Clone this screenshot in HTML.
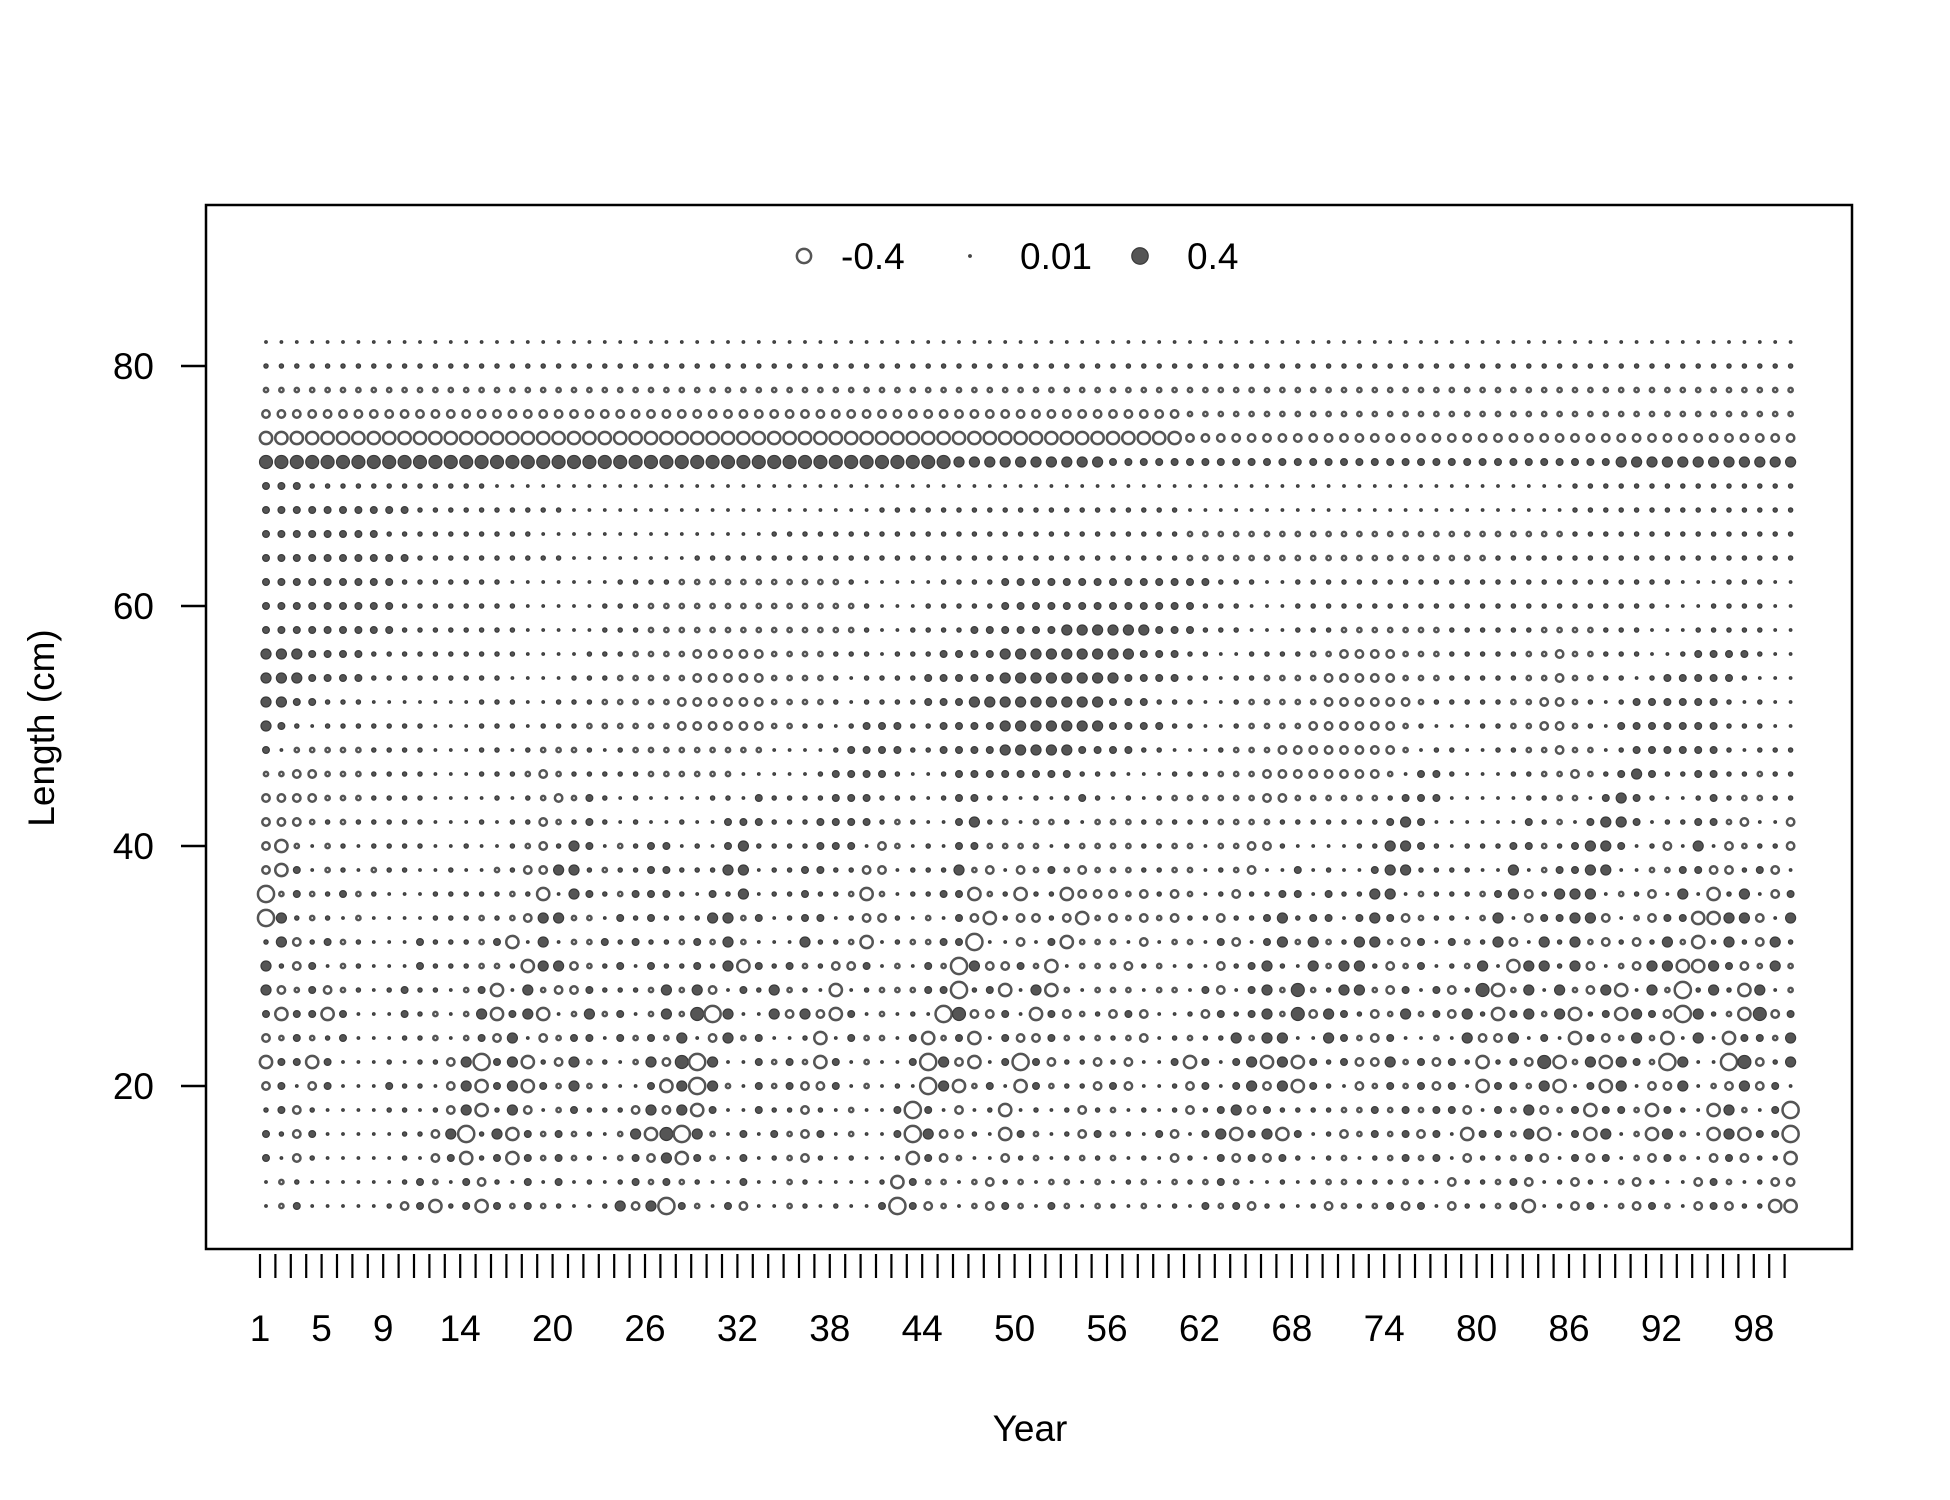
<!DOCTYPE html>
<html><head><meta charset="utf-8"><title>Length residual bubble plot</title>
<style>
html,body{margin:0;padding:0;background:#fff;}
svg{display:block;font-family:"Liberation Sans",Arial,sans-serif;}
</style></head>
<body>
<svg id="chart" width="1950" height="1500" viewBox="0 0 1950 1500" xmlns="http://www.w3.org/2000/svg">
<rect x="0" y="0" width="1950" height="1500" fill="#fff"/>
<g id="bubbles"></g>
<rect x="206" y="205" width="1646" height="1044" fill="none" stroke="#000" stroke-width="2.5"/>
<g id="yaxis"></g>
<g id="xaxis"></g>
<text x="0" y="0" transform="translate(44,728) rotate(-90)" font-size="37" text-anchor="middle" dominant-baseline="middle">Length (cm)</text>
<text x="1030" y="1441" font-size="37" text-anchor="middle">Year</text>
<g id="legend"></g>
</svg>
<script>
// ---- data ----
const lengthBins = [82,80,78,76,74,72,70,68,66,64,62,60,58,56,54,52,50,48,46,44,42,40,38,36,34,32,30,28,26,24,22,20,18,16,14,12,10];
const yearCount = 100;
const xTickYears = [1,5,9,14,20,26,32,38,44,50,56,62,68,74,80,86,92,98];
const yTickValues = [20,40,60,80];
const legendValues = [-0.4, 0.01, 0.4];
const legendLabels = ["-0.4","0.01","0.4"];
// residual level codes: lowercase = positive (filled), uppercase = negative (open)
const codeValues = {".":0.008,"a":0.022,"b":0.055,"c":0.12,"d":0.2,"A":-0.05,"B":-0.11,"C":-0.25,"D":-0.4};
// each row: [years 1-33, years 34-67, years 68-100]
const residualRowsA = [
["................................. ","..................................",".................................."],
["aaaaaaaaaaaaaaaaaaaaaaaaaaaaaaaaa","aaaaaaaaaaaaaaaaaaaaaaaaaaaaaaaaaa","aaaaaaaaaaaaaaaaaaaaaaaaaaaaaaaaa"],
["AAAAAAAAAAAAAAAAAAAAAAAAAAAAAAAAA","AAAAAAAAAAAAAAAAAAAAAAAAAAAAAAAAAA","AAAAAAAAAAAAAAAAAAAAAAAAAAAAAAAAA"],
["BBBBBBBBBBBBBBBBBBBBBBBBBBBBBBBBB","BBBBBBBBBBBBBBBBBBBBBBBBBBBAAAAAAA","AAAAAAAAAAAAAAAAAAAAAAAAAAAAAAAAA"],
["CCCCCCCCCCCCCCCCCCCCCCCCCCCCCCCCC","CCCCCCCCCCCCCCCCCCCCCCCCCCCBBBBBBB","BBBBBBBBBBBBBBBBBBBBBBBBBBBBBBBBB"],
["ddddddddddddddddddddddddddddddddd","ddddddddddddccccccccccbbbbbbbbbbbb","bbbbbbbbbbbbbbbbbbbbbcccccccccccc"],
["bbbaaaaaaaaaaaa..................","..................................","..................aaaaaaaaaaaaaaa"],
["bbbbbbbbbbaaaaaaaaaa.............",".......aaaaaaaaaaaaaaaaaaaa.......","..................aaaaaaaaaaaaaaa"],
["bbbbbbbbaaaaaaaaaa...............","aaaaaaaaaaaaaaaaaaaaaaaaaaaAAAAAAA","AAAAAAAAAAAAAAAAAAaaaaaaaaaaaaaaa"],
["bbbbbbbbbbaaaaaaaaaa........aaaaa","aaaaaaaaaaaaaaaaaaaaaaaaaaaAAAAAAA","AAAAAAAAAAAAAaaaaaaaaaaaaaaaaaaaa"]
];
const residualRowsB = [
["b b b b b b b b b a a a a a a a . . . . . . . a a a a A A A A A A","A A A A A a . . . . . a a a a b b b b b b b b b b b b b b a a a . .","a a a a a a a a a a a a a a a a a a a a a a a a a . . . a a a . ."],
["b b b b b b b b b a a a a a a a a . . . . . a a a A A A A A A A A","A A A A A A a . . . a a a a a b b b b b b b b b b b b b a a a . . . .","a a a a a a a a a a a a a a a a a a a a a a a a . . . a a a a . ."],
["b b b b b b b b b a a a a a a a a . . . . . a a a A A A A A A A A","A A A A A A a . . a a a a b b b b b b c c c c c c b b b a a a . . .","a a a A A A A A A A a a a a a a A A A A a a a . . . a a a a a . ."],
["c c c b b b b a a a a a a a a a a . . . . a a a A A A A B B B B B","A A A A a a a . a a a b b b b c c c c c c c c c b b b a a . . a a a","a A A B B B B A A A a a a a a A A B A A a a a . . a b b b b a . ."],
["c c c b b b b a a a a a a a a a . . . . a a a A A A A A B B B B B","A A A A a . a a a a b b b b b c c c c c c c c b b b b a a . a a A A","A A B B B B B A A A a a a a a A A B A A a a . a b b b b b a . . ."],
["c c b b a a a . . . . . . . a a a . . a a a A A A A A B B B B B B","A A A A a . a a a a b b b c c c c c c c c c b b b a a a . . a A A A","A A B B B B B B A a a a a a A A B B A a . a b b b b b b a . a ."],
["c b a . a a a a a a a . . . a a a . a a a A A A A A A B B B B B B","A A a a . a b b b a a b b b b c c c c c c c b b b b a a . . a A A A","A B B B B B B A a . . . a a A A B B A a . b b b b b b b a a a ."],
["b . A A A A A a a a a . . . a a . a A A A a . a A A A A A A A A A",". . . . a b b b b a a b b b b c c c c c b b b b a a . . . a A A A B","B B B B B B B A . a a . . a a A A B A A . a b b b b b b a . a a"],
["A A B B A A A a a a a . . . a a a A B A a a a a a A A A A A A . .",". . . a b b b b a . . a b b b b b b b b a a a . . . a a a A A A B B","B B B B B B A . b b a . . . a a A A B A a b c b a a b b a a A a a"],
["B B B B A A A a a a a . . . . a . a A B A b a . a . . . . a a . b","a a a a b b b a a a . a b b a a . a . a b a . a . a A A A A A A B B","A A A A A A a b b b . . . . . a a A A . b c b a . . a b a A A a a"],
["B B B A a A a a a a a . . . a . a a B A a b a . a . . a . . b b b","a a a b b b b a A a . . b c a A . A A a . A A A a A a a a A A A A a","a a a a a a b c b . . . . . . b a A . b c c b . a a b b A B . . B"],
["B C A . A a . a a a a . . a . . a A B a c b . A a b b . a . b c a","a a a b b b . B A . a . b b A A A A . a A A A A a a A A . A A B B a",". . . . a a c c b a . a a a b b A a b c c b . a B . c . B A a a B"],
["B C b . A a . A a a . . a . . A a B B c c a A a a b b a a a c c .","a a b b a a B B . a a a c A B . B A b A B A A A a a A A . a A B . .","b . a . . b c c a a a a . . c . A b b c c . . A A b b B B a b B ."],
["D A b A a b A a . . . a a a a a A a C . c b a A b b b a . b a c .","a a b a a A C A . a a b b C A a C a a C B B B A B a B A . a B a a b","b . b a a c c . A a a a A b c B a c c c . A a B . c . C a c . B b"],
["D c a A a . A . . . . a a a A a A B c c A A . b a b a a a c c A b",". a b b . a B B a . A . b B C a B B a B C A B A B A B a a B a a b c","a b b . b c b B A a a . A c . B b b c c B . A B b b C C c c B . c"],
["a c B a b A a . . . b a a a A b C . c . A A b a b a a A b A c A .",". . c a a A C . a A A b b D . . B . b C A A A . B . A A . b B . b c c","A c A a c c A B b . b A a c B . c a c A B a B a c A C a c a B c a"],
["c a B b . A a . . . b a a a A A a C c c B A a b . b a a b a c C b","a b A a B B b . A . b A D c B B b A C . A A A B a A . a . B a b c a",". c A c c a B A b . a A c . C c c a c B . A B c c C C c b B A c A"],
["c B A b B A a . a b a a . A b C . c A B B b a a a A c A c B . b a","c A a . C . a A A A b b D a b C . c C A . A A A . A A . b B . b c A A","d A a c c A B b . b B a d C A c . c A B c C . c A D a c a C c . A"],
["b C b b C b . . . b a A . A c C b c C . A c A b . A c A d D c . .","c B c B C b . A . a . D d B B b . C b B A a B b B . . a B b a b c A A","d B c b a B A c A b B c a C b c A c C a b C c b B D c a A C d B b"],
["B A b A a b . . . a a A . A b B c . B A b b . b A b A c . B c A b",". . a C . b A A . b C A b C . b B B b A a A a A B . a A a a c A c c",". . c b A B b . . A . c B B c . b . C b B A c A C . c . C b b A c"],
["C b b C b . . . a . a a B c D b c C a B c A a . A c B d D c . . b","A b A C b . A . . b D c B C . b D b B a a B a B . . b C b . b c C c","C b a b B B c A b B b a C a b B d C A c C c b A D c . . D d B a c"],
["B b . B b . . . b a a . B c C b c C b A c A a . . b C c D c A . b","A b B B b . A . a . D c C A b . C b A a a B b B . . a B b . b c B c","C b a . B A b A b B b . C b b A c C . b C c . B B c . A B c B b ."],
["a b B a . . . . a a . a B c C a c B . A b a a a B c B c C b . . b","a a B a . A . . b D b . B . a C . a . a B a A . a . a B a b c B b a","a a a A A b A b A b b B . b A c B A b C b b A C b a . C c A . b D"],
["b a B b . . . . . a a B c D a c C b A b A a . A c C d D c A . b .","b A B b . A . . b D c B B a . C b A . a B b A a . b B . b c C b c C","b . a B A b A b B b . C b b A c C . b C c . A C c A . C c C b b D"],
["b . B a . . . . . a . B b C a b C b A b A a . A b B c C b A . b .","a A B a . a . . a C b B A . . B a A . a A a A . a . B a . b B b B b","a . a A . a A b A b . B a a A b B . b B b . A B b A . B b B a a C"],
[". A a . . . . . . a b A . b B a . b . b . a . a b A b A a . . b .",". A a . . . . a C b A A . A B a A . A A . A . a A . A a A b A . . a",". a A A a a a A a . B a a A b B . a B a . A B a . . B b A . a B B"],
[". A b . . . . . a B b C a b C b A b A a . . a c B c D b A . b B .",". A a . a . . b D b B A . A B b A . b A . A a . A . a . b A b B a a",". a B A a A b B b . B a a A b C . a B b . A B b A . B b B a a C C"]
];
const residualRows = residualRowsA.concat(residualRowsB);
// ---- scales ----
const NS = "http://www.w3.org/2000/svg";
function yearX(i){ return 266 + (i-1)*15.40; }
function tickX(i){ return 260 + (i-1)*15.40; }
function lengthY(L){ return 342 + (82-L)*12.0; }
function radius(v){ return 14.5*Math.sqrt(Math.abs(v)); }
function segClean(s, n){
  s = s.replace(/\s+/g,'');
  if(s.length===0) s='.';
  while(s.length<n) s += s[s.length-1];
  return s.slice(0,n);
}
const segLens=[33,34,33];
const gB = document.getElementById('bubbles');
residualRows.forEach(function(row, ri){
  const L = lengthBins[ri];
  const codes = row.map(function(s,k){return segClean(s, segLens[k]);}).join('');
  for(let i=1;i<=yearCount;i++){
    const v = codeValues[codes[i-1]] !== undefined ? codeValues[codes[i-1]] : 0.008;
    const c = document.createElementNS(NS,'circle');
    
    
    c.setAttribute('cx', yearX(i).toFixed(1));
    c.setAttribute('cy', lengthY(L).toFixed(1));
    const r = radius(v);
    if(v<0){
      c.setAttribute('r', Math.max(r-1.1,0.8).toFixed(2));
      c.setAttribute('fill','#fff');
      c.setAttribute('stroke','#555');
      c.setAttribute('stroke-width','2.5');
    } else {
      c.setAttribute('r', r.toFixed(2));
      c.setAttribute('fill','#555');
      c.setAttribute('stroke','#3a3a3a');
      c.setAttribute('stroke-width','1.2');
    }
    gB.appendChild(c);
  }
});
// y axis
const gY = document.getElementById('yaxis');
yTickValues.forEach(function(t){
  const y = lengthY(t);
  const ln = document.createElementNS(NS,'line');
  
  
  ln.setAttribute('x1',181); ln.setAttribute('x2',206);
  ln.setAttribute('y1',y); ln.setAttribute('y2',y);
  ln.setAttribute('stroke','#000'); ln.setAttribute('stroke-width','2.5');
  gY.appendChild(ln);
  const tx = document.createElementNS(NS,'text');
  
  
  tx.setAttribute('x',154); tx.setAttribute('y',y+13);
  tx.setAttribute('font-size','37'); tx.setAttribute('text-anchor','end');
  tx.textContent = String(t);
  gY.appendChild(tx);
});
// x axis
const gX = document.getElementById('xaxis');
for(let i=1;i<=yearCount;i++){
  const ln = document.createElementNS(NS,'line');
  
  
  const x = tickX(i);
  ln.setAttribute('x1',x); ln.setAttribute('x2',x);
  ln.setAttribute('y1',1254); ln.setAttribute('y2',1278);
  ln.setAttribute('stroke','#000'); ln.setAttribute('stroke-width','2.2');
  gX.appendChild(ln);
}
xTickYears.forEach(function(t){
  const tx = document.createElementNS(NS,'text');
  
  
  tx.setAttribute('x',tickX(t)); tx.setAttribute('y',1341);
  tx.setAttribute('font-size','37'); tx.setAttribute('text-anchor','middle');
  tx.textContent = String(t);
  gX.appendChild(tx);
});
// legend
const gL = document.getElementById('legend');
const legendSymX = [804, 970, 1140];
const legendTextX = [841, 1020, 1187];
legendValues.forEach(function(v,k){
  const c = document.createElementNS(NS,'circle');
  
  
  c.setAttribute('cx',legendSymX[k]); c.setAttribute('cy',256);
  const r = 13*Math.sqrt(Math.abs(v));
  if(v<0){
    c.setAttribute('r',(r-1.1).toFixed(2)); c.setAttribute('fill','#fff');
    c.setAttribute('stroke','#555'); c.setAttribute('stroke-width','2.5');
  } else {
    c.setAttribute('r',r.toFixed(2)); c.setAttribute('fill','#555');
    c.setAttribute('stroke','#3a3a3a'); c.setAttribute('stroke-width','1.2');
  }
  gL.appendChild(c);
  const tx = document.createElementNS(NS,'text');
  
  
  tx.setAttribute('x',legendTextX[k]); tx.setAttribute('y',269);
  tx.setAttribute('font-size','37');
  tx.textContent = legendLabels[k];
  gL.appendChild(tx);
});
</script>
</body></html>
